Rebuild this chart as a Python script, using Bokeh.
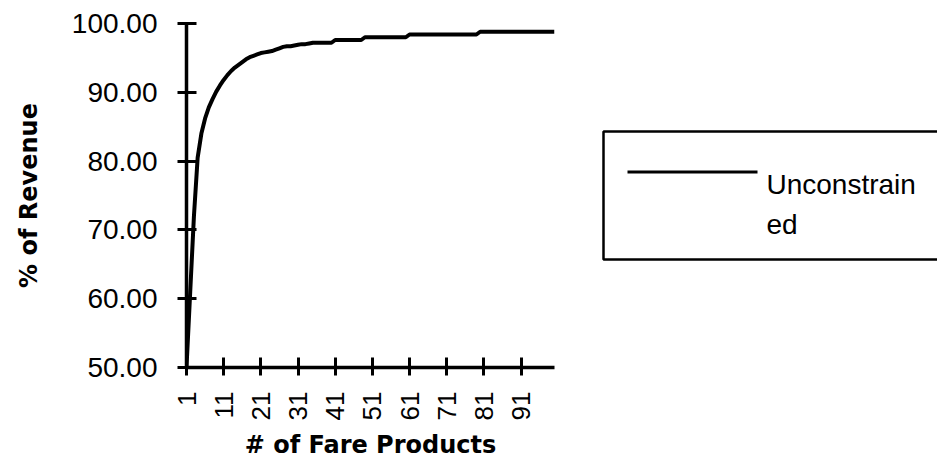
from math import pi
from bokeh.plotting import figure
from bokeh.layouts import row
from bokeh.models import Range1d, FixedTicker, PrintfTickFormatter
from bokeh.core.properties import value
from bokeh.embed import file_html
from bokeh.resources import INLINE

# ---- data ----
products = list(range(1, 101))
revenue = [
    50.0, 61.0, 72.0, 80.5, 84.0, 86.2, 87.8, 89.0, 90.1, 91.0,
    91.8, 92.5, 93.1, 93.6, 94.0, 94.4, 94.8, 95.1, 95.3, 95.5,
    95.7, 95.8, 95.9, 96.0, 96.2, 96.4, 96.6, 96.7, 96.7, 96.8,
    96.9, 97.0, 97.0, 97.1, 97.2, 97.2, 97.2, 97.2, 97.2, 97.2,
    97.6, 97.6, 97.6, 97.6, 97.6, 97.6, 97.6, 97.6, 98.0, 98.0,
    98.0, 98.0, 98.0, 98.0, 98.0, 98.0, 98.0, 98.0, 98.0, 98.0,
    98.4, 98.4, 98.4, 98.4, 98.4, 98.4, 98.4, 98.4, 98.4, 98.4,
    98.4, 98.4, 98.4, 98.4, 98.4, 98.4, 98.4, 98.4, 98.4, 98.8,
    98.8, 98.8, 98.8, 98.8, 98.8, 98.8, 98.8, 98.8, 98.8, 98.8,
    98.8, 98.8, 98.8, 98.8, 98.8, 98.8, 98.8, 98.8, 98.8, 98.8,
]
x_ticks = [1, 11, 21, 31, 41, 51, 61, 71, 81, 91]
y_ticks = [50, 60, 70, 80, 90, 100]
x_title = "# of Fare Products"
y_title = "% of Revenue"
legend_lines = ["Unconstrain", "ed"]

TICK_FONT = "Liberation Sans"
TITLE_FONT = "DejaVu Sans"
TOP, BOTTOM = 23, 104

p = figure(width=590, height=471, output_backend="svg", toolbar_location=None,
           x_range=Range1d(1, 100), y_range=Range1d(50, 100),
           min_border_left=186, min_border_right=36,
           min_border_top=TOP, min_border_bottom=BOTTOM)
p.outline_line_color = None
p.grid.visible = False
p.background_fill_color = "white"
p.border_fill_color = "white"

p.line(products, revenue, line_width=4, line_color="black", line_join="round")

for ax in (p.xaxis[0], p.yaxis[0]):
    ax.axis_line_width = 3.5
    ax.axis_line_color = "black"
    ax.major_tick_line_width = 3
    ax.major_tick_line_color = "black"
    ax.minor_tick_line_color = None
    ax.major_label_text_font = TICK_FONT
    ax.major_label_text_color = "black"
    ax.axis_label_text_font = TITLE_FONT
    ax.axis_label_text_font_style = "bold"
    ax.axis_label_text_font_size = "24px"
    ax.axis_label_text_color = "black"

xa = p.xaxis[0]
xa.ticker = FixedTicker(ticks=x_ticks)
xa.major_label_orientation = pi / 2
xa.major_label_text_font_size = "26px"
xa.major_tick_in = 10
xa.major_tick_out = 8
xa.major_label_standoff = 16
xa.axis_label = x_title
xa.axis_label_standoff = 8

ya = p.yaxis[0]
ya.ticker = FixedTicker(ticks=y_ticks)
ya.formatter = PrintfTickFormatter(format="%.2f")
ya.major_label_text_font_size = "28px"
ya.major_tick_in = 10
ya.major_tick_out = 9
ya.major_label_standoff = 20
ya.axis_label = y_title
ya.axis_label_standoff = 26

# ---- legend panel (data coords == page pixels) ----
lg = figure(width=347, height=471, output_backend="svg", toolbar_location=None,
            x_range=Range1d(590, 937), y_range=Range1d(471 - BOTTOM, TOP),
            x_axis_type=None, y_axis_type=None,
            min_border_left=0, min_border_right=0,
            min_border_top=TOP, min_border_bottom=BOTTOM)
lg.outline_line_color = None
lg.grid.visible = False
lg.quad(left=[603], right=[960], top=[131], bottom=[259],
        fill_color=None, line_color="black", line_width=2.5)
lg.line([627, 757], [171.5, 171.5], line_width=3, line_color="black")
lg.text(x=[766, 766], y=[184, 224], text=legend_lines,
        text_font=value(TICK_FONT), text_font_size="28px",
        text_baseline="alphabetic", text_align="left", text_color="black")

layout = row(p, lg, spacing=0)
open("out.html", "w").write(file_html(layout, INLINE))
